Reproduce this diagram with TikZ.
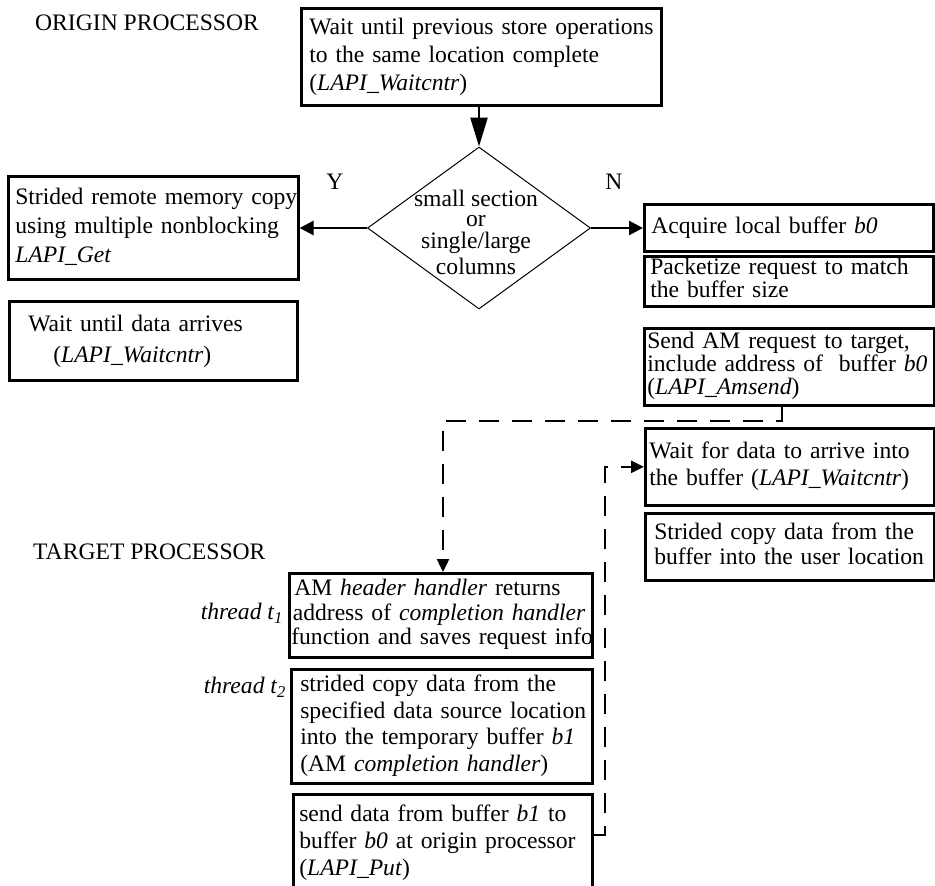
\documentclass[tikz,border=0pt]{standalone}
\usepackage{fontspec}
\setmainfont{Liberation Serif}
\usetikzlibrary{shapes.geometric,arrows.meta}
\newcommand\lns[2][1]{\renewcommand\arraystretch{#1}\begin{tabular}{@{}l@{}}#2\end{tabular}}
\begin{document}
\begin{tikzpicture}[x=1bp,y=-1bp,
  every node/.style={font=\fontsize{23.7pt}{26.7pt}\selectfont, inner sep=0pt},
  bx/.style={draw, line width=2.6bp, anchor=north west, align=left, inner ysep=0pt},
  bigtip/.style={-{Triangle[length=29bp,width=17bp]}, line width=2.6bp},
  sidetip/.style={-{Triangle[length=14bp,width=14bp]}, line width=2.6bp},
  dashtip/.style={-{Triangle[length=13bp,width=12bp]}, line width=2.4bp, dash pattern=on 20bp off 13bp},
]
\useasboundingbox (0,0) rectangle (935,886);
\fill[white] (0,0) rectangle (935,886);
\clip (0,0) rectangle (935,886);

% labels
\node[anchor=west] (orig) at (35,23) {ORIGIN PROCESSOR};
\node[anchor=west] (targ) at (33,552) {TARGET PROCESSOR};
\node (ylab) at (335,182) {Y};
\node (nlab) at (614,182) {N};
\node[anchor=east] (th1) at (283,613) {\textit{thread t\textsubscript{1}}};
\node[anchor=east] (th2) at (286,687) {\textit{thread t\textsubscript{2}}};

% origin side
\node[bx, minimum width=360bp, minimum height=97bp, inner xsep=8bp, text width=344bp] (top) at (300,7)
  {\lns[1.06]{Wait until previous store operations\\to the same location complete\\(\textit{LAPI\_Waitcntr})}};

\node[diamond, draw, line width=1bp, minimum width=223bp, minimum height=162bp] (dec) at (479,228) {};
\node[align=center] (dectxt) at (476,232) {small section\\[-6pt]or\\[-5pt]single/large\\[-0.7pt]columns};

\node[bx, minimum width=290bp, minimum height=103bp, inner xsep=7bp, text width=276bp] (ystr) at (7,175)
  {\lns[1.08]{Strided remote memory copy\\using multiple nonblocking\\\textit{LAPI\_Get}}};
\node[bx, minimum width=288bp, minimum height=79bp, inner xsep=19bp, text width=250bp] (ywait) at (8,300)
  {\lns[1.15]{Wait until data arrives\\\hspace*{25bp}(\textit{LAPI\_Waitcntr})}};

\node[bx, minimum width=289bp, minimum height=47bp, inner xsep=7bp, text width=275bp] (acq) at (643,203)
  {Acquire local buffer \textit{b0}};
\node[bx, minimum width=289bp, minimum height=50bp, inner xsep=6bp, text width=277bp] (pack) at (643,255)
  {\lns[0.88]{Packetize request to match\\the buffer size}};
\node[bx, minimum width=290bp, minimum height=77bp, inner xsep=3bp, text width=284bp] (send) at (643,327)
  {\lns[0.86]{Send AM request to target,\\include address of~ buffer \textit{b0}\\(\textit{LAPI\_Amsend})}};
\node[bx, minimum width=289bp, minimum height=77bp, inner xsep=4bp, text width=281bp] (waitfor) at (644,427)
  {\lns{Wait for data to arrive into\\the buffer (\textit{LAPI\_Waitcntr})}};
\node[bx, minimum width=289bp, minimum height=67bp, inner xsep=9bp, text width=271bp] (scopy) at (644,512)
  {\lns[0.94]{Strided copy data from the\\buffer into the user location}};

% target side
\node[bx, minimum width=303bp, minimum height=84bp, inner xsep=2bp, text width=299bp] (t1) at (288,572)
  {\lns[0.92]{\hspace*{3bp}AM \textit{header handler} returns\\\hspace*{1.5bp}address of \textit{completion handler}\\function and saves request info}};
\node[bx, minimum width=301bp, minimum height=114bp, inner xsep=9bp, text width=283bp] (t2) at (290,668)
  {\lns{strided copy data from the\\specified data source location\\into the temporary buffer \textit{b1}\\(AM \textit{completion handler})}};
\node[bx, minimum width=299bp, inner xsep=6bp, inner ysep=9bp, text width=287bp] (put) at (292,793)
  {\lns{send data from buffer \textit{b1} to\\buffer \textit{b0} at origin processor\\(\textit{LAPI\_Put})\\~}};

% connectors
\draw[bigtip] (top.south -| dec.north) -- (dec.north);
\draw[sidetip] (dec.west) -- (dec.west -| ystr.east);
\draw[sidetip] (dec.east) -- (dec.east -| acq.west);
\coordinate (d1) at (782,421);
\coordinate (d2) at (443,421);
\draw[dashtip] (send.south -| d1) -- (d1) -- (d2) -- (d2 |- t1.north);
\coordinate (e1) at (605,835);
\draw[dashtip] (put.east |- e1) -- (e1) |- (waitfor.west);
\end{tikzpicture}
\end{document}
